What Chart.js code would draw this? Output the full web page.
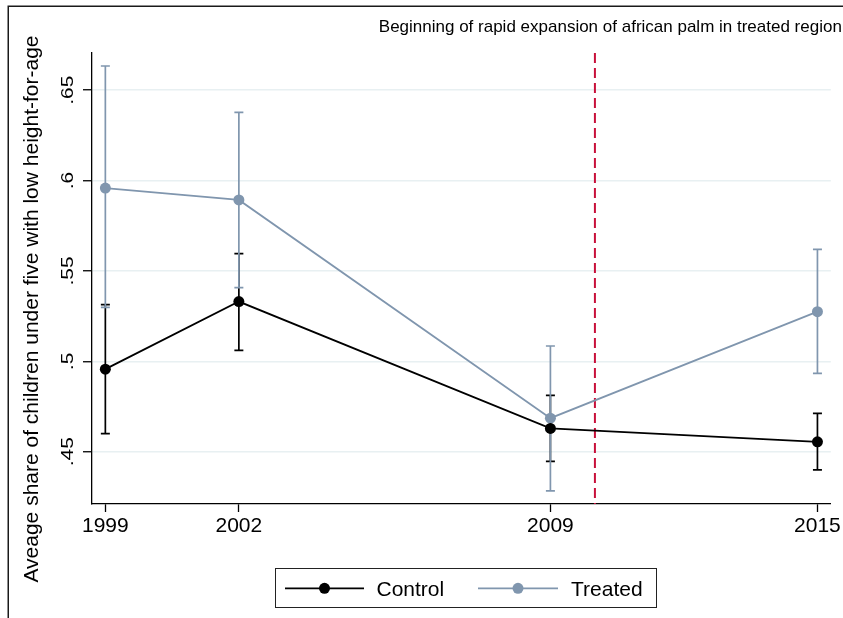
<!DOCTYPE html>
<html>
<head>
<meta charset="utf-8">
<script src="https://cdn.jsdelivr.net/npm/chart.js@4/dist/chart.umd.min.js"></script>
<style>
  html, body { margin: 0; padding: 0; background: #ffffff; }
  canvas { display: block; }
</style>
</head>
<body>
<canvas id="c" width="843" height="618"></canvas>
<script>
// Survey years
const years = [1999, 2002, 2009, 2015];

// Control region: mean share and confidence interval
const controlMean = [0.4957, 0.5331, 0.4629, 0.4555];
const controlLow  = [0.4600, 0.5061, 0.4447, 0.4400];
const controlHigh = [0.5314, 0.5596, 0.4812, 0.4712];

// Treated region: mean share and confidence interval
const treatedMean = [0.5959, 0.5893, 0.4686, 0.5275];
const treatedLow  = [0.5299, 0.5408, 0.4284, 0.4934];
const treatedHigh = [0.6634, 0.6378, 0.5085, 0.5620];

// Axis ticks
const xTicks = [1999, 2002, 2009, 2015];
const yTicks = [0.45, 0.5, 0.55, 0.6, 0.65];
const yTickLabels = ['.45', '.5', '.55', '.6', '.65'];

// Year the palm expansion starts
const expansionYear = 2010;

const seriesNames = ['Control', 'Treated'];
const noteText = 'Beginning of rapid expansion of african palm in treated region';
const yTitle = 'Aveage share of children under five with low height-for-age';

const FONT = '"Liberation Sans", Arial, Helvetica, sans-serif';
const BLACK = '#000000';
const GREY = '#8096ae';
const RED = '#c8103a';
const GRID = '#e8f0f2';

function drawBars(ctx, x, y, low, high, color) {
  ctx.save();
  ctx.strokeStyle = color;
  ctx.lineWidth = 1.7;
  const cap = 4.5;
  years.forEach((yr, i) => {
    const px = x.getPixelForValue(yr);
    const y1 = y.getPixelForValue(low[i]);
    const y2 = y.getPixelForValue(high[i]);
    ctx.beginPath();
    ctx.moveTo(px, y1); ctx.lineTo(px, y2);
    ctx.moveTo(px - cap, y1); ctx.lineTo(px + cap, y1);
    ctx.moveTo(px - cap, y2); ctx.lineTo(px + cap, y2);
    ctx.stroke();
  });
  ctx.restore();
}

const decor = {
  id: 'decor',
  beforeDatasetsDraw(chart) {
    const { ctx, chartArea, scales: { x, y } } = chart;
    // dashed marker for the start of the expansion
    ctx.save();
    ctx.strokeStyle = RED;
    ctx.lineWidth = 2;
    ctx.setLineDash([10, 5]);
    const px = x.getPixelForValue(expansionYear);
    ctx.beginPath();
    ctx.moveTo(px, chartArea.top);
    ctx.lineTo(px, chartArea.bottom);
    ctx.stroke();
    ctx.restore();
    // confidence intervals
    drawBars(ctx, x, y, controlLow, controlHigh, BLACK);
    drawBars(ctx, x, y, treatedLow, treatedHigh, GREY);
  },
  afterDraw(chart) {
    const { ctx, scales: { y } } = chart;
    ctx.save();
    // outer frame
    ctx.strokeStyle = '#1a1a1a';
    ctx.lineWidth = 1.5;
    ctx.strokeRect(8.25, 6.25, 1000, 1000);

    // vertical y tick labels
    ctx.fillStyle = '#000';
    ctx.font = '21px ' + FONT;
    yTicks.forEach((v, i) => {
      const py = y.getPixelForValue(v);
      ctx.save();
      ctx.translate(67.5, py);
      ctx.rotate(-Math.PI / 2);
      ctx.scale(1, 0.75);
      ctx.textAlign = 'center';
      ctx.textBaseline = 'middle';
      ctx.fillText(yTickLabels[i], 0, 1);
      ctx.restore();
    });

    // y axis title
    ctx.save();
    ctx.translate(37.7, 309);
    ctx.rotate(-Math.PI / 2);
    ctx.textAlign = 'center';
    ctx.textBaseline = 'alphabetic';
    ctx.font = '21px ' + FONT;
    ctx.fillText(yTitle, 0, 0);
    ctx.restore();

    // note at top right
    ctx.font = '17px ' + FONT;
    ctx.textAlign = 'left';
    ctx.textBaseline = 'alphabetic';
    ctx.fillText(noteText, 378.8, 32.3);

    // legend
    ctx.strokeStyle = '#222';
    ctx.lineWidth = 1;
    ctx.strokeRect(275.5, 568.5, 381, 39);
    const items = [
      { color: BLACK, x0: 285, x1: 364, tx: 376.5 },
      { color: GREY, x0: 478, x1: 558, tx: 571 }
    ];
    const ly = 588.3;
    items.forEach((it, i) => {
      ctx.strokeStyle = it.color;
      ctx.lineWidth = 1.8;
      ctx.beginPath();
      ctx.moveTo(it.x0, ly); ctx.lineTo(it.x1, ly);
      ctx.stroke();
      ctx.fillStyle = it.color;
      ctx.beginPath();
      ctx.arc((it.x0 + it.x1) / 2, ly, 5.5, 0, Math.PI * 2);
      ctx.fill();
      ctx.fillStyle = '#000';
      ctx.font = '21px ' + FONT;
      ctx.fillText(seriesNames[i], it.tx, 595.6);
    });
    ctx.restore();
  }
};

const mkPts = arr => years.map((yr, i) => ({ x: yr, y: arr[i] }));

new Chart(document.getElementById('c'), {
  type: 'line',
  data: {
    datasets: [
      {
        label: seriesNames[0],
        data: mkPts(controlMean),
        borderColor: BLACK,
        backgroundColor: BLACK,
        pointBackgroundColor: BLACK,
        borderWidth: 1.8,
        pointRadius: 5.5,
        pointBorderWidth: 0,
        tension: 0,
        fill: false
      },
      {
        label: seriesNames[1],
        data: mkPts(treatedMean),
        borderColor: GREY,
        backgroundColor: GREY,
        pointBackgroundColor: GREY,
        borderWidth: 1.8,
        pointRadius: 5.5,
        pointBorderWidth: 0,
        tension: 0,
        fill: false
      }
    ]
  },
  options: {
    responsive: false,
    animation: false,
    devicePixelRatio: 1,
    events: [],
    layout: { padding: { left: 0, top: 53, right: 11, bottom: 0 } },
    plugins: {
      legend: { display: false },
      tooltip: { enabled: false },
      title: { display: false }
    },
    scales: {
      x: {
        type: 'linear',
        min: 1998.7,
        max: 2015.3,
        afterBuildTicks: s => { s.ticks = xTicks.map(v => ({ value: v })); },
        afterFit: s => { s.height = 114; },
        ticks: {
          color: '#000',
          font: { family: FONT, size: 21 },
          padding: 2,
          maxRotation: 0,
          autoSkip: false,
          callback: v => String(v)
        },
        grid: {
          drawOnChartArea: false,
          drawTicks: true,
          tickLength: 8,
          tickColor: '#000',
          tickWidth: 1.3
        },
        border: { display: true, color: '#000', width: 1.3 }
      },
      y: {
        type: 'linear',
        min: 0.4211,
        max: 0.6706,
        afterBuildTicks: s => { s.ticks = yTicks.map(v => ({ value: v })); },
        afterFit: s => { s.width = 92; },
        ticks: { display: false },
        grid: {
          color: GRID,
          lineWidth: 1.5,
          drawTicks: true,
          tickLength: 9,
          tickColor: '#000',
          tickWidth: 1.3
        },
        border: { display: true, color: '#000', width: 1.3 }
      }
    }
  },
  plugins: [decor]
});
</script>
</body>
</html>
